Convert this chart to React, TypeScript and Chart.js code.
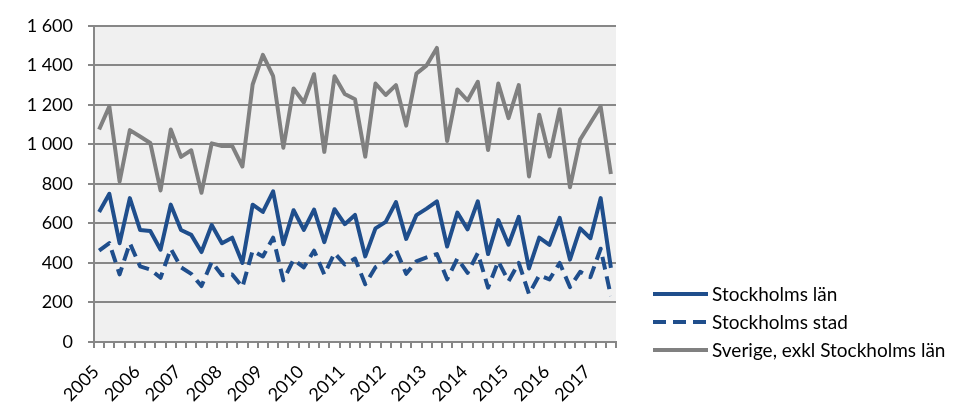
import React, { useEffect, useRef } from "react";
import { Chart, registerables } from "chart.js";

Chart.register(...registerables);

const years = ["2005", "2006", "2007", "2008", "2009", "2010", "2011", "2012", "2013", "2014", "2015", "2016", "2017"];
const quarters = ["K1", "K2", "K3", "K4"];
const categories: string[] = [];
years.forEach((y) => quarters.forEach((q) => categories.push(y + " " + q)));
categories.length = 51; // 2005 K1 – 2017 K3

const stockholmsLan = [658, 750, 500, 728, 567, 562, 467, 695, 567, 542, 455, 592, 500, 528, 400, 695, 658, 762, 495, 667, 567, 670, 505, 672, 596, 643, 433, 575, 608, 708, 522, 642, 675, 712, 483, 655, 570, 712, 445, 617, 492, 633, 372, 528, 492, 628, 417, 575, 525, 728, 375];
const stockholmsStad = [462, 500, 342, 500, 383, 367, 325, 472, 378, 345, 283, 405, 338, 342, 278, 462, 433, 528, 312, 417, 378, 462, 342, 450, 392, 422, 292, 378, 408, 467, 345, 408, 428, 445, 317, 422, 350, 450, 275, 408, 308, 400, 242, 338, 317, 400, 278, 355, 328, 472, 233];
const sverigeExkl = [1075, 1192, 812, 1072, 1040, 1007, 767, 1075, 937, 970, 755, 1005, 992, 992, 888, 1303, 1453, 1345, 983, 1283, 1212, 1355, 962, 1345, 1255, 1228, 938, 1308, 1250, 1300, 1095, 1358, 1400, 1488, 1017, 1278, 1222, 1317, 972, 1308, 1133, 1300, 838, 1150, 938, 1178, 783, 1025, 1108, 1192, 850];

const seriesNames = ["Stockholms län", "Stockholms stad", "Sverige, exkl Stockholms län"];
const yTicks = [0, 200, 400, 600, 800, 1000, 1200, 1400, 1600];

const FONT = "Lato, 'Noto Sans', sans-serif";
const BLUE = "#1f4e8c";
const GREY = "#808080";
const GRID = "#878787";

const bgPlugin = {
  id: "plotBg",
  beforeDraw(chart: any) {
    const { ctx, chartArea } = chart;
    ctx.save();
    ctx.fillStyle = "#f0f0f0";
    ctx.fillRect(chartArea.left, chartArea.top, chartArea.right - chartArea.left, chartArea.bottom - chartArea.top);
    ctx.restore();
  },
};

const legendPlugin = {
  id: "customLegend",
  afterDraw(chart: any) {
    const { ctx } = chart;
    ctx.save();
    chart.data.datasets.forEach((ds: any, i: number) => {
      const y = 294 + 28 * i;
      ctx.beginPath();
      ctx.strokeStyle = ds.borderColor;
      ctx.lineWidth = ds.borderWidth;
      ctx.lineCap = "butt";
      ctx.setLineDash(ds.borderDash || []);
      ctx.moveTo(653, y);
      ctx.lineTo(708, y);
      ctx.stroke();
      ctx.setLineDash([]);
      ctx.fillStyle = "#000";
      ctx.font = "19px " + FONT;
      ctx.textBaseline = "middle";
      ctx.textAlign = "left";
      ctx.fillText(ds.label, 712, y + 1);
    });
    ctx.restore();
  },
};

export default function App() {
  const ref = useRef<HTMLCanvasElement>(null);
  useEffect(() => {
    if (!ref.current) return;
    const chart = new Chart(ref.current, {
      type: "line",
      data: {
        labels: categories,
        datasets: [
          {
            label: seriesNames[0],
            data: stockholmsLan,
            borderColor: BLUE,
            borderWidth: 4,
            pointRadius: 0,
            tension: 0,
            borderJoinStyle: "round",
          },
          {
            label: seriesNames[1],
            data: stockholmsStad,
            borderColor: BLUE,
            borderWidth: 4,
            borderDash: [13, 7],
            pointRadius: 0,
            tension: 0,
            borderJoinStyle: "round",
          },
          {
            label: seriesNames[2],
            data: sverigeExkl,
            borderColor: GREY,
            borderWidth: 4,
            pointRadius: 0,
            tension: 0,
            borderJoinStyle: "round",
          },
        ],
      },
      options: {
        animation: false,
        responsive: false,
        layout: { padding: { top: 22, right: 361, bottom: 0, left: 0 } },
        plugins: { legend: { display: false }, tooltip: { enabled: false } },
        scales: {
          x: {
            type: "category",
            offset: true,
            grid: {
              offset: true,
              drawOnChartArea: false,
              drawTicks: true,
              tickLength: 6,
              color: GRID,
              lineWidth: 2,
            },
            border: { display: true, color: GRID, width: 2 },
            ticks: {
              autoSkip: false,
              maxRotation: 45,
              minRotation: 45,
              padding: 13,
              labelOffset: -3,
              color: "#000",
              font: { family: FONT, size: 18 },
              callback: (_v: any, i: number) => (i % 4 === 0 ? years[i / 4] : ""),
            },
            afterFit: (s: any) => {
              s.height = 76;
            },
          },
          y: {
            min: 0,
            max: 1600,
            afterBuildTicks: (s: any) => {
              s.ticks = yTicks.map((v) => ({ value: v }));
            },
            grid: { color: GRID, lineWidth: 2, tickLength: 6, drawTicks: true },
            border: { display: true, color: GRID, width: 2 },
            ticks: {
              padding: 15,
              color: "#000",
              font: { family: FONT, size: 18 },
              callback: (v: any) => {
                const n = Number(v);
                return n >= 1000 ? Math.floor(n / 1000) + " " + String(n % 1000).padStart(3, "0") : String(n);
              },
            },
            afterFit: (s: any) => {
              s.width = 94;
            },
          },
        },
      },
      plugins: [bgPlugin, legendPlugin],
    });
    return () => chart.destroy();
  }, []);
  return (
    <div style={{ position: "fixed", left: 0, top: 0, width: 977, height: 418, background: "#fff" }}>
      <canvas ref={ref} width={977} height={418} style={{ width: 977, height: 418, display: "block" }} />
    </div>
  );
}
